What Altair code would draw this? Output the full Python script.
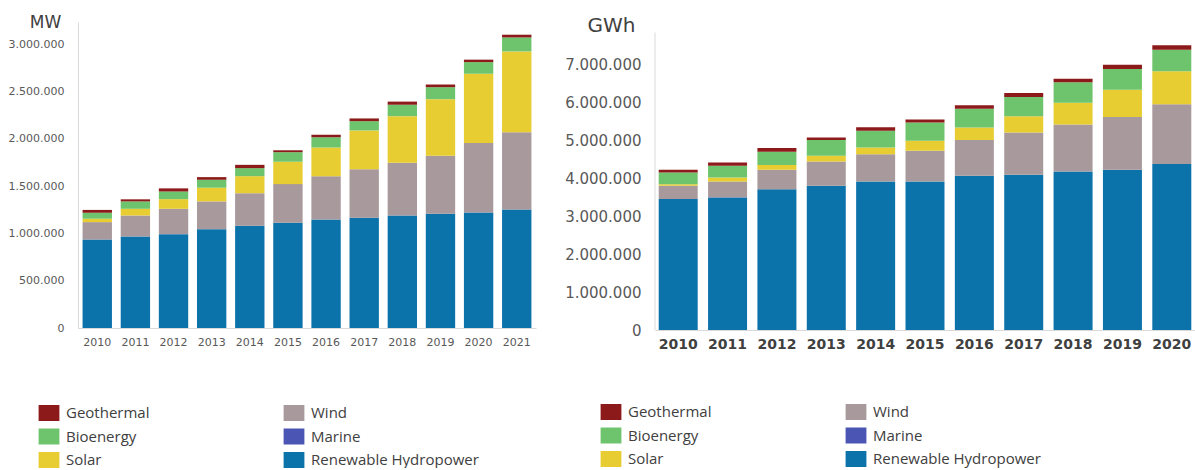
import altair as alt
import pandas as pd

# ---- installed capacity (MW) ----
mw_years = ["2010", "2011", "2012", "2013", "2014", "2015",
            "2016", "2017", "2018", "2019", "2020", "2021"]
mw_hydro = [936000, 968000, 993000, 1046000, 1081000, 1113000,
            1148000, 1166000, 1190000, 1208000, 1222000, 1254000]
mw_marine = [500, 500, 500, 500, 500, 500, 500, 500, 500, 500, 500, 500]
mw_wind = [184000, 222000, 268000, 293000, 345000, 409000,
           458000, 514000, 558000, 614000, 734000, 818000]
mw_solar = [36000, 71000, 102000, 145000, 180000, 237000,
            304000, 410000, 493000, 599000, 734000, 854000]
mw_bio = [63000, 78000, 81000, 84000, 85000, 101000,
          109000, 98000, 121000, 127000, 123000, 148000]
mw_geo = [30000, 22000, 33000, 28000, 35000, 20000,
          26000, 29000, 33000, 28000, 26000, 29000]

# ---- electricity generation (GWh) ----
gwh_years = ["2010", "2011", "2012", "2013", "2014", "2015",
             "2016", "2017", "2018", "2019", "2020"]
gwh_hydro = [3450000, 3495000, 3712000, 3801000, 3914000, 3914000,
             4063000, 4089000, 4175000, 4220000, 4377000]
gwh_marine = [1000, 1000, 1000, 1000, 1000, 1000, 1000, 1000, 1000, 1000, 1000]
gwh_wind = [351000, 419000, 508000, 636000, 714000, 811000,
            942000, 1115000, 1239000, 1395000, 1571000]
gwh_solar = [42000, 104000, 131000, 157000, 184000, 262000,
             330000, 430000, 576000, 715000, 871000]
gwh_bio = [306000, 307000, 348000, 411000, 437000, 479000,
           497000, 505000, 541000, 550000, 568000]
gwh_geo = [75000, 90000, 100000, 70000, 95000, 80000,
           89000, 105000, 90000, 110000, 115000]

# axis extents
mw_ticks = [0, 500000, 1000000, 1500000, 2000000, 2500000, 3000000]
mw_axis_top = 3238000
gwh_ticks = [0, 1000000, 2000000, 3000000, 4000000, 5000000, 6000000, 7000000]
gwh_axis_top = 7842000
gwh_scale_top = 8118000

# stacking order, bottom to top
stack_order = ["Renewable Hydropower", "Marine", "Wind", "Solar", "Bioenergy", "Geothermal"]
# legend order (two columns, filled top to bottom)
legend_order = ["Geothermal", "Bioenergy", "Solar", "Wind", "Marine", "Renewable Hydropower"]
palette = {
    "Geothermal": "#8C1A1A",
    "Wind": "#A8999C",
    "Bioenergy": "#6EC46C",
    "Marine": "#4A55B4",
    "Solar": "#E8CD32",
    "Renewable Hydropower": "#0B72AA",
}


def long_table(years, series):
    rows = []
    for rank, name in enumerate(stack_order):
        for year, v in zip(years, series[name]):
            rows.append({"year": year, "source": name, "value": v, "rank": rank})
    return pd.DataFrame(rows)


mw_df = long_table(mw_years, {
    "Renewable Hydropower": mw_hydro, "Marine": mw_marine, "Wind": mw_wind,
    "Solar": mw_solar, "Bioenergy": mw_bio, "Geothermal": mw_geo,
})
gwh_df = long_table(gwh_years, {
    "Renewable Hydropower": gwh_hydro, "Marine": gwh_marine, "Wind": gwh_wind,
    "Solar": gwh_solar, "Bioenergy": gwh_bio, "Geothermal": gwh_geo,
})

dot_thousands = "replace(format(datum.value, ','), regexp(',', 'g'), '.')"
swatch = "M-1.3,-1L1.3,-1L1.3,1L-1.3,1Z"


def panel(df, years, ymax, ticks, width, height, pad_in, pad_out,
          unit, unit_x, unit_y, unit_size,
          xlab_size, xlab_weight, xlab_color, ylab_size, lab_pad_x,
          legend_x, legend_y, show_domain):
    legend = alt.Legend(
        orient="none", legendX=legend_x, legendY=legend_y,
        columns=2, columnPadding=133, rowPadding=7.5,
        symbolType=swatch, symbolSize=256, symbolStrokeWidth=0,
        labelFont="Open Sans", labelFontSize=15, labelColor="#404040",
        labelOffset=9, labelLimit=300, title=None, padding=0,
    )
    return alt.Chart(df).mark_bar().encode(
        x=alt.X(
            "year:O", sort=years,
            scale=alt.Scale(paddingInner=pad_in, paddingOuter=pad_out),
            axis=alt.Axis(
                title=None, labelAngle=0, ticks=False, tickSize=0,
                labelPadding=lab_pad_x, labelFont="DejaVu Sans",
                labelFontSize=xlab_size, labelFontWeight=xlab_weight,
                labelColor=xlab_color, domainColor="#d9d9d9",
            ),
        ),
        y=alt.Y(
            "value:Q", stack="zero",
            scale=alt.Scale(domain=[0, ymax], nice=False),
            axis=alt.Axis(
                values=ticks, labelExpr=dot_thousands, grid=False,
                ticks=False, tickSize=0, labelPadding=14,
                labelFont="DejaVu Sans", labelFontSize=ylab_size,
                labelColor="#595959", domain=show_domain, domainColor="#d9d9d9",
                title=unit, titleAngle=0, titleX=unit_x, titleY=unit_y,
                titleAlign="center", titleBaseline="alphabetic",
                titleFont="DejaVu Sans", titleFontSize=unit_size,
                titleFontWeight="normal", titleColor="#404040",
            ),
        ),
        color=alt.Color(
            "source:N",
            scale=alt.Scale(domain=legend_order,
                            range=[palette[s] for s in legend_order]),
            legend=legend,
        ),
        order=alt.Order("rank:Q", sort="ascending"),
    ).properties(width=width, height=height)


capacity = panel(
    mw_df, mw_years, mw_axis_top, mw_ticks,
    458, 306, 0.23, 0.12,
    "MW", -33, 5, 17,
    11, "normal", "#595959", 11, 8,
    -37, 383, True,
)

generation_bars = panel(
    gwh_df, gwh_years, gwh_scale_top, gwh_ticks,
    540, 308, 0.21, 0.075,
    "GWh", -44, 9, 20,
    14, "bold", "#404040", 15, 7,
    -52, 382, False,
)

# vertical axis line for the generation panel, from 0 up to the axis top
gwh_axis_line = alt.Chart(pd.DataFrame({"k": [0]})).mark_rule(
    color="#d9d9d9", strokeWidth=1
).encode(x=alt.value(0), y=alt.datum(0), y2=alt.datum(gwh_axis_top))

generation = alt.layer(generation_bars, gwh_axis_line)

chart = alt.hconcat(capacity, generation, spacing=28).resolve_scale(
    color="independent"
).properties(
    padding={"left": 8, "top": 13, "right": 0, "bottom": 0}
).configure_view(stroke=None)

chart.save("out.html", embed_options={"renderer": "svg", "actions": False})
